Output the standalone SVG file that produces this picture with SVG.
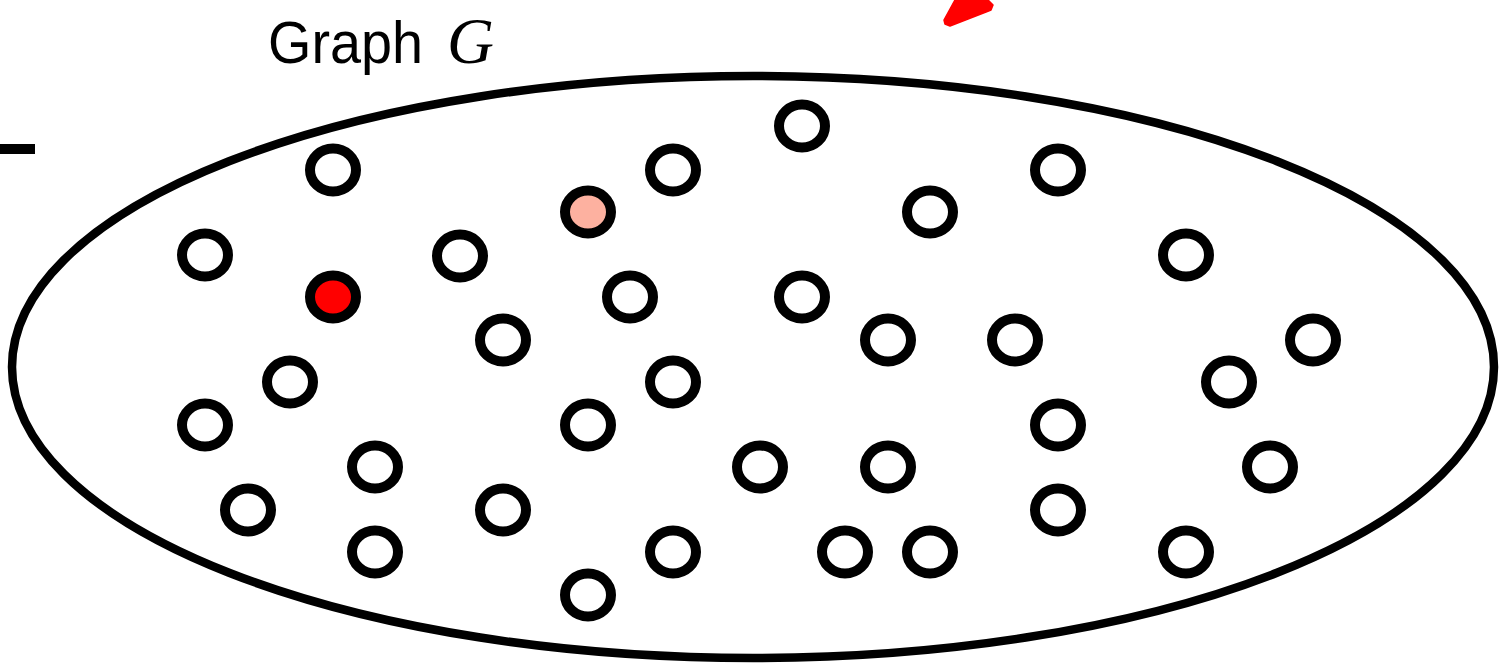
<svg xmlns="http://www.w3.org/2000/svg" width="1503" height="664" viewBox="0 0 1503 664">
<style>
.n{fill:#fff;stroke:#000;stroke-width:10}
.r{fill:#ff0000}
.s{fill:#fdb1a0}
.t{font-family:"Liberation Sans",Arial,sans-serif;font-size:60px;fill:#000}
.m{font-family:"Liberation Serif",serif;font-style:italic;font-size:65px;fill:#000}
</style>
<rect x="0" y="144" width="35" height="10" fill="#000"/>
<path d="M955,0 L988,0 L993,5 L991,10 L986,12 L950,26 L945,24 L944,20 Z" fill="#ff0000" stroke="#ff0000" stroke-width="1.5" stroke-linejoin="round"/>
<g id="graph">
<ellipse cx="753" cy="367" rx="741" ry="291" fill="none" stroke="#000" stroke-width="8.5"/>
<text x="268" y="63" class="t" textLength="155" lengthAdjust="spacingAndGlyphs">Graph</text>
<text x="447" y="63" class="m">G</text>
</g>
<g id="connectors"></g>
<g id="n1"><ellipse class="n" cx="333" cy="170" rx="23" ry="21.5"/></g>
<g id="n2"><ellipse class="n" cx="205" cy="255" rx="23" ry="21.5"/></g>
<g id="n3"><ellipse class="n r" cx="333" cy="297" rx="23" ry="21.5"/></g>
<g id="n4"><ellipse class="n" cx="460" cy="256" rx="23" ry="21.5"/></g>
<g id="n5"><ellipse class="n s" cx="588" cy="212" rx="23" ry="21.5"/></g>
<g id="n6"><ellipse class="n" cx="673" cy="170" rx="23" ry="21.5"/></g>
<g id="n7"><ellipse class="n" cx="802" cy="126" rx="23" ry="21.5"/></g>
<g id="n8"><ellipse class="n" cx="930" cy="212" rx="23" ry="21.5"/></g>
<g id="n9"><ellipse class="n" cx="1058" cy="170" rx="23" ry="21.5"/></g>
<g id="n10"><ellipse class="n" cx="1186" cy="255" rx="23" ry="21.5"/></g>
<g id="n11"><ellipse class="n" cx="630" cy="297" rx="23" ry="21.5"/></g>
<g id="n12"><ellipse class="n" cx="802" cy="297" rx="23" ry="21.5"/></g>
<g id="n13"><ellipse class="n" cx="888" cy="340" rx="23" ry="21.5"/></g>
<g id="n14"><ellipse class="n" cx="1015" cy="340" rx="23" ry="21.5"/></g>
<g id="n15"><ellipse class="n" cx="1313" cy="340" rx="23" ry="21.5"/></g>
<g id="n16"><ellipse class="n" cx="503" cy="340" rx="23" ry="21.5"/></g>
<g id="n17"><ellipse class="n" cx="290" cy="382" rx="23" ry="21.5"/></g>
<g id="n18"><ellipse class="n" cx="673" cy="382" rx="23" ry="21.5"/></g>
<g id="n19"><ellipse class="n" cx="1229" cy="382" rx="23" ry="21.5"/></g>
<g id="n20"><ellipse class="n" cx="205" cy="425" rx="23" ry="21.5"/></g>
<g id="n21"><ellipse class="n" cx="588" cy="425" rx="23" ry="21.5"/></g>
<g id="n22"><ellipse class="n" cx="1058" cy="425" rx="23" ry="21.5"/></g>
<g id="n23"><ellipse class="n" cx="375" cy="467" rx="23" ry="21.5"/></g>
<g id="n24"><ellipse class="n" cx="760" cy="467" rx="23" ry="21.5"/></g>
<g id="n25"><ellipse class="n" cx="888" cy="467" rx="23" ry="21.5"/></g>
<g id="n26"><ellipse class="n" cx="1270" cy="467" rx="23" ry="21.5"/></g>
<g id="n27"><ellipse class="n" cx="248" cy="510" rx="23" ry="21.5"/></g>
<g id="n28"><ellipse class="n" cx="503" cy="510" rx="23" ry="21.5"/></g>
<g id="n29"><ellipse class="n" cx="1058" cy="510" rx="23" ry="21.5"/></g>
<g id="n30"><ellipse class="n" cx="375" cy="552" rx="23" ry="21.5"/></g>
<g id="n31"><ellipse class="n" cx="673" cy="552" rx="23" ry="21.5"/></g>
<g id="n32"><ellipse class="n" cx="845" cy="552" rx="23" ry="21.5"/></g>
<g id="n33"><ellipse class="n" cx="930" cy="552" rx="23" ry="21.5"/></g>
<g id="n34"><ellipse class="n" cx="1186" cy="552" rx="23" ry="21.5"/></g>
<g id="n35"><ellipse class="n" cx="588" cy="595" rx="23" ry="21.5"/></g>
</svg>
